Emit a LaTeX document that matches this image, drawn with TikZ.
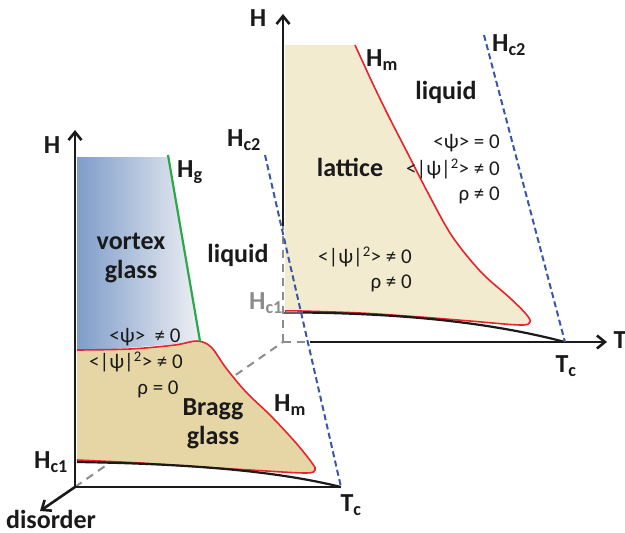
\documentclass[tikz,border=0pt]{standalone}
\usepackage{fontspec}
\setmainfont{Carlito}
\usetikzlibrary{arrows.meta}
\definecolor{Ink}{HTML}{1A1A1A}
\definecolor{TanBack}{HTML}{F3EBCF}
\definecolor{TanFront}{HTML}{E6D6A5}
\definecolor{GlassBlue}{HTML}{7F9DCA}
\definecolor{GlassPale}{HTML}{EEF0F3}
\definecolor{MeltRed}{HTML}{E8232B}
\definecolor{HcBlue}{HTML}{3A56A8}
\definecolor{GlassGreen}{HTML}{2BA84A}
\definecolor{AxisGrey}{HTML}{8C8C8C}

\begin{document}
\begin{tikzpicture}[x=1pt,y=-1pt,
  lbl/.style={font=\fontsize{26}{27}\selectfont\bfseries,text=Ink,inner sep=0pt},
  eqn/.style={font=\fontsize{21}{22}\selectfont,text=Ink,inner sep=0pt},
  axis/.style={Ink,line width=2.6pt},
  guide/.style={AxisGrey,line width=2pt,dash pattern=on 8pt off 6pt},
  hctwo/.style={HcBlue,line width=2pt,dash pattern=on 6pt off 3.5pt}]
\useasboundingbox (0,0) rectangle (625,533);
% corner points of the two planes
\coordinate (O1) at (75,487);
\coordinate (O2) at (283,342);
\coordinate (Tc1) at (341,487);
\coordinate (Tc2) at (565,342);
% back plane (clean sample)
\fill[TanBack] (285,45) -- plot[smooth,tension=0.55] coordinates {(355,45) (372,82) (388,115) (407,152) (428,193) (452,236) (481,272) (510,298) (526,314) (530,322) (520,325) (470,321) (420,317) (360,313) (300,311) (285,311)} -- cycle;
\draw[MeltRed,line width=1.6pt] plot[smooth,tension=0.55] coordinates {(355,45) (372,82) (388,115) (407,152) (428,193) (452,236) (481,272) (510,298) (526,314) (530,322) (520,325) (470,321) (420,317) (360,313) (300,311) (285,311)};
\draw[Ink,line width=2.2pt] (303,312.5) .. controls (420,314) and (500,325) .. (Tc2);
\draw[AxisGrey!70!black,line width=2.4pt] (284,313) -- (303,313);
\draw[guide] (O1) -- (O2);
\draw[guide] (O2) -- (310,342);
\draw[guide] (O2) -- (283,226);
\draw[axis,-{Straight Barb[length=8pt,width=13pt]}] (283,226) -- (283,14);
\draw[axis,-{Straight Barb[length=8pt,width=13pt]}] (310,342) -- (607,342);
% front plane (disordered sample)
\shade[left color=GlassBlue,right color=GlassPale] (77,157) -- (168,157) -- (200,342) -- (77,352) -- cycle;
\fill[TanFront] plot[smooth,tension=0.55] coordinates {(77,350) (130,349) (175,345) (197,341) (211,347) (226,368) (246,392) (271,416) (296,443) (312,463) (315,470) (305,473) (250,470) (200,467) (140,463) (77,460)} -- cycle;
\draw[MeltRed,line width=1.6pt] plot[smooth,tension=0.55] coordinates {(77,350) (130,349) (175,345) (197,341) (211,347) (226,368) (246,392) (271,416) (296,443) (312,463) (315,470) (305,473) (250,470) (200,467) (140,463) (77,460)};
\draw[GlassGreen,line width=2.2pt] (168,155) -- (200,341);
\draw[Ink,line width=2.2pt] (77,462) .. controls (200,464) and (280,472) .. (Tc1);
\draw[axis] (O1) -- (Tc1);
\draw[axis,-{Straight Barb[length=8pt,width=13pt]}] (O1) -- (75,130);
\draw[axis,-{Straight Barb[length=8pt,width=13pt]}] (O1) -- (40,511);
% upper critical field lines
\draw[hctwo] (265,155) -- (Tc1);
\draw[hctwo] (484,35) -- (Tc2);
% labels, front plane
\node[lbl] (Hf) at (52,145) {H};
\node[lbl] (Hg) at (190,172) {H\textsubscript{g}};
\node[lbl,align=center] (vg) at (131,258) {vortex\\[2pt]glass};
\node[lbl] (liqf) at (238,255) {liquid};
\node[lbl] (Hc2f) at (244,140) {H\textsubscript{c2}};
\node[eqn] (psif) at (145,337) {<ψ>\ \ ≠ 0};
\node[eqn] (modf) at (136,362) {<|ψ|\textsuperscript{2}>\ ≠\ 0};
\node[eqn] (rhof) at (158,389) {ρ\ =\ 0};
\node[lbl,align=center] (bg) at (213,424) {Bragg\\[2pt]glass};
\node[lbl] (Hmf) at (290,405) {H\textsubscript{m}};
\node[lbl] (Hc1f) at (51,462) {H\textsubscript{c1}};
\node[lbl] (Tcf) at (351,505) {T\textsubscript{c}};
\node[lbl] (dis) at (51,519) {disorder};
% labels, back plane
\node[lbl] (Hb) at (258,18) {H};
\node[lbl] (Hmb) at (382,60) {H\textsubscript{m}};
\node[lbl] (liqb) at (446,92) {liquid};
\node[lbl] (Hc2b) at (509,45) {H\textsubscript{c2}};
\node[lbl] (lat) at (350,167) {lattice};
\node[eqn,anchor=east] (psib) at (500,143) {<ψ> = 0};
\node[eqn,anchor=east] (modb) at (500,169) {<|ψ|\textsuperscript{2}> ≠ 0};
\node[eqn,anchor=east] (rhob) at (500,195) {ρ ≠ 0};
\node[eqn,anchor=east] (modl) at (412,257) {<|ψ|\textsuperscript{2}> ≠ 0};
\node[eqn,anchor=east] (rhol) at (412,283) {ρ ≠ 0};
\node[lbl,text=AxisGrey] (Hc1b) at (266,303) {H\textsubscript{c1}};
\node[lbl] (Tb) at (620,340) {T};
\node[lbl] (Tcb) at (566,366) {T\textsubscript{c}};
\end{tikzpicture}
\end{document}
